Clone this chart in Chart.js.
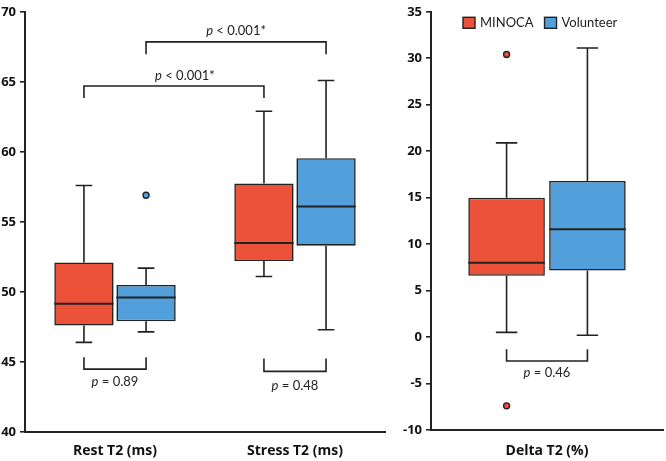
<!DOCTYPE html>
<html>
<head>
<meta charset="utf-8">
<script src="https://cdn.jsdelivr.net/npm/chart.js@4.4.1/dist/chart.umd.min.js"></script>
<style>
  html, body { margin: 0; padding: 0; background: #fff; }
  #wrap { position: relative; width: 666px; height: 461px; }
  #wrap canvas { position: absolute; top: 0; }
  #leftChart { left: 0; }
  #rightChart { left: 360px; }
</style>
</head>
<body>
<div id="wrap">
  <canvas id="leftChart" width="390" height="461"></canvas>
  <canvas id="rightChart" width="306" height="461"></canvas>
</div>
<script>
// ---- data ----
const groupNames = ['MINOCA', 'Volunteer'];

const t2Labels = ['Rest T2 (ms)', 'Stress T2 (ms)'];
const minocaT2Min = [46.4, 51.1];
const minocaT2Q1 = [47.6, 52.2];
const minocaT2Median = [49.15, 53.5];
const minocaT2Q3 = [52.1, 57.75];
const minocaT2Max = [57.6, 62.9];
const minocaT2Outliers = [[], []];
const volT2Min = [47.15, 47.3];
const volT2Q1 = [47.9, 53.3];
const volT2Median = [49.6, 56.1];
const volT2Q3 = [50.5, 59.55];
const volT2Max = [51.7, 65.1];
const volT2Outliers = [[56.9], []];

const deltaLabels = ['Delta T2 (%)'];
const minocaDeltaMin = [0.5];
const minocaDeltaQ1 = [6.6];
const minocaDeltaMedian = [8.0];
const minocaDeltaQ3 = [15.0];
const minocaDeltaMax = [20.9];
const minocaDeltaOutliers = [[30.4, -7.4]];
const volDeltaMin = [0.2];
const volDeltaQ1 = [7.15];
const volDeltaMedian = [11.6];
const volDeltaQ3 = [16.8];
const volDeltaMax = [31.1];
const volDeltaOutliers = [[]];

const t2Ticks = { min: 40, max: 70, step: 5 };
const deltaTicks = { min: -10, max: 35, step: 5 };

// significance brackets: a/b = [dataset, index], y = bar level, leg = end of the legs
const t2Brackets = [
  { a: [0, 0], b: [0, 1], y: 64.7, leg: 63.85, text: '< 0.001*', textY: 65.45, shift: 11 },
  { a: [1, 0], b: [1, 1], y: 67.85, leg: 66.97, text: '< 0.001*', textY: 68.65, shift: 0 },
  { a: [0, 0], b: [1, 0], y: 44.49, leg: 45.34, text: '= 0.89', textY: 43.57, shift: 0 },
  { a: [0, 1], b: [1, 1], y: 44.33, leg: 45.25, text: '= 0.48', textY: 43.33, shift: 0 },
];
const deltaBrackets = [
  { a: [0, 0], b: [1, 0], y: -2.58, leg: -1.3, text: '= 0.46', textY: -3.82, shift: 0 },
];

// ---- style ----
const RED = '#ec5139';
const BLUE = '#52a0db';
const INK = '#222222';
const FONT = 'Lato, "DejaVu Sans", sans-serif';
const TICK_FONT = '"Open Sans", Lato, sans-serif';
const COLORS = [RED, BLUE];

function stats(min, q1, median, q3, max, outliers) {
  return { min, q1, median, q3, max, outliers };
}

function boxDatasets(statList) {
  return statList.map((s, i) => ({
    label: groupNames[i],
    data: s.q1.map((v, k) => [v, s.q3[k]]),
    backgroundColor: COLORS[i],
    borderColor: INK,
    borderWidth: 1.6,
    borderSkipped: false,
  }));
}

function drawP(ctx, text, cx, cy) {
  ctx.font = 'italic 13px ' + FONT;
  const wp = ctx.measureText('p').width;
  ctx.font = '13px ' + FONT;
  const rest = ' ' + text;
  const wr = ctx.measureText(rest).width;
  const x0 = cx - (wp + wr) / 2;
  ctx.textBaseline = 'middle';
  ctx.textAlign = 'left';
  ctx.fillStyle = INK;
  ctx.font = 'italic 13px ' + FONT;
  ctx.fillText('p', x0, cy);
  ctx.font = '13px ' + FONT;
  ctx.fillText(rest, x0 + wp, cy);
}

function boxPlugin(statList, brackets, withLegend) {
  return {
    id: 'boxExtras',
    afterDatasetsDraw(chart) {
      const ctx = chart.ctx;
      const ys = chart.scales.y;
      ctx.save();
      ctx.strokeStyle = INK;
      chart.data.datasets.forEach((ds, di) => {
        const s = statList[di];
        chart.getDatasetMeta(di).data.forEach((bar, i) => {
          const { x, width } = bar.getProps(['x', 'width'], true);
          const half = width / 2;
          const cap = width * 0.14;
          const pMin = ys.getPixelForValue(s.min[i]);
          const pQ1 = ys.getPixelForValue(s.q1[i]);
          const pMed = ys.getPixelForValue(s.median[i]);
          const pQ3 = ys.getPixelForValue(s.q3[i]);
          const pMax = ys.getPixelForValue(s.max[i]);
          ctx.lineWidth = 1.6;
          ctx.beginPath();
          ctx.moveTo(x, pQ1); ctx.lineTo(x, pMin);
          ctx.moveTo(x - cap, pMin); ctx.lineTo(x + cap, pMin);
          ctx.moveTo(x, pQ3); ctx.lineTo(x, pMax);
          ctx.moveTo(x - cap, pMax); ctx.lineTo(x + cap, pMax);
          ctx.stroke();
          ctx.lineWidth = 2;
          ctx.beginPath();
          ctx.moveTo(x - half, pMed); ctx.lineTo(x + half, pMed);
          ctx.stroke();
          s.outliers[i].forEach(v => {
            ctx.beginPath();
            ctx.arc(x, ys.getPixelForValue(v), 3, 0, Math.PI * 2);
            ctx.fillStyle = COLORS[di];
            ctx.fill();
            ctx.lineWidth = 1.4;
            ctx.stroke();
          });
        });
      });

      // brackets
      brackets.forEach(b => {
        const xa = chart.getDatasetMeta(b.a[0]).data[b.a[1]].x;
        const xb = chart.getDatasetMeta(b.b[0]).data[b.b[1]].x;
        const py = ys.getPixelForValue(b.y);
        const pl = ys.getPixelForValue(b.leg);
        ctx.lineWidth = 1.6;
        ctx.strokeStyle = INK;
        ctx.beginPath();
        ctx.moveTo(xa, pl); ctx.lineTo(xa, py); ctx.lineTo(xb, py); ctx.lineTo(xb, pl);
        ctx.stroke();
        drawP(ctx, b.text, (xa + xb) / 2 + b.shift, ys.getPixelForValue(b.textY));
      });

      if (withLegend) {
        const area = chart.chartArea;
        let x = area.left + 32;
        const cy = area.top + 11;
        ctx.font = '13px ' + FONT;
        ctx.textBaseline = 'middle';
        ctx.textAlign = 'left';
        groupNames.forEach((name, i) => {
          ctx.fillStyle = COLORS[i];
          ctx.fillRect(x, cy - 5.5, 12, 11);
          ctx.lineWidth = 1.4;
          ctx.strokeStyle = INK;
          ctx.strokeRect(x, cy - 5.5, 12, 11);
          ctx.fillStyle = INK;
          ctx.fillText(name, x + 17, cy);
          x += 17 + ctx.measureText(name).width + 11;
        });
      }
      ctx.restore();
    },
  };
}

function makeChart(id, labels, statList, brackets, ticks, dims, withLegend) {
  return new Chart(document.getElementById(id), {
    type: 'bar',
    data: { labels, datasets: boxDatasets(statList) },
    options: {
      responsive: false,
      animation: false,
      events: [],
      categoryPercentage: dims.cat,
      barPercentage: dims.bar,
      layout: { padding: { top: dims.top, right: dims.right, left: 0, bottom: 0 } },
      plugins: { legend: { display: false }, tooltip: { enabled: false } },
      scales: {
        x: {
          grid: { display: false, drawTicks: false },
          border: { display: true, color: INK, width: 2 },
          ticks: { color: '#111', font: { family: TICK_FONT, size: 14, weight: 'bold' }, padding: dims.xPad },
          afterFit: s => { s.height = dims.xHeight; },
        },
        y: {
          min: ticks.min,
          max: ticks.max,
          grid: { drawOnChartArea: false, drawTicks: true, tickLength: 5, color: INK, lineWidth: 1.6 },
          border: { display: true, color: INK, width: 2 },
          ticks: { stepSize: ticks.step, color: '#111', padding: 4, font: { family: TICK_FONT, size: 13, weight: 'bold' } },
          afterFit: s => { s.width = dims.yWidth; },
        },
      },
    },
    plugins: [boxPlugin(statList, brackets, withLegend)],
  });
}

const t2Stats = [
  stats(minocaT2Min, minocaT2Q1, minocaT2Median, minocaT2Q3, minocaT2Max, minocaT2Outliers),
  stats(volT2Min, volT2Q1, volT2Median, volT2Q3, volT2Max, volT2Outliers),
];
const deltaStats = [
  stats(minocaDeltaMin, minocaDeltaQ1, minocaDeltaMedian, minocaDeltaQ3, minocaDeltaMax, minocaDeltaOutliers),
  stats(volDeltaMin, volDeltaQ1, volDeltaMedian, volDeltaQ3, volDeltaMax, volDeltaOutliers),
];

makeChart('leftChart', t2Labels, t2Stats, t2Brackets, t2Ticks,
  { cat: 0.69, bar: 0.955, top: 9, right: 5, yWidth: 25, xHeight: 29, xPad: 11 }, false);
makeChart('rightChart', deltaLabels, deltaStats, deltaBrackets, deltaTicks,
  { cat: 0.697, bar: 0.947, top: 6, right: 3, yWidth: 71, xHeight: 31, xPad: 13 }, true);
</script>
</body>
</html>
